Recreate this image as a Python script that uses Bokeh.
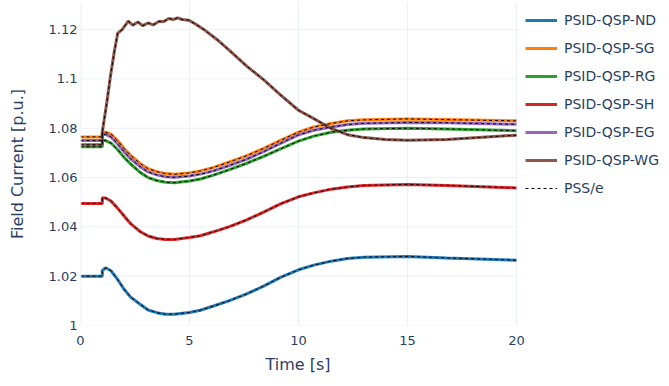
from bokeh.plotting import figure
from bokeh.models import (Legend, LegendItem, Range1d, FixedTicker,
                          CustomJSTickFormatter, Span, Title)
from bokeh.embed import file_html
from bokeh.resources import INLINE

# ---------------- data ----------------
time = [0, 1.0, 1.0, 1.15, 1.4, 1.7, 2.0, 2.3, 2.75, 3.1, 3.5, 3.9, 4.3, 5.0,
        5.5, 6.1, 6.8, 7.6, 8.4, 9.2, 10.0, 10.7, 11.5, 12.25, 13.0, 15.0,
        16.8, 20.0]

nd = [1.0200, 1.0200, 1.0223, 1.0234, 1.0222, 1.0187, 1.0147, 1.0115, 1.0085,
      1.0063, 1.0052, 1.0046, 1.0046, 1.0053, 1.0062, 1.0079, 1.0100, 1.0127,
      1.0160, 1.0196, 1.0226, 1.0245, 1.0261, 1.0272, 1.0277, 1.0280, 1.0274,
      1.0265]

sg = [1.0765, 1.0765, 1.0786, 1.0784, 1.0776, 1.0750, 1.0718, 1.0690, 1.0656,
      1.0636, 1.0624, 1.0616, 1.0613, 1.0619, 1.0627, 1.0641, 1.0662, 1.0688,
      1.0718, 1.0752, 1.0784, 1.0805, 1.0819, 1.0830, 1.0834, 1.0838, 1.0835,
      1.0830]

rg = [1.0725, 1.0725, 1.0752, 1.0750, 1.0740, 1.0714, 1.0682, 1.0655, 1.0620,
      1.0600, 1.0588, 1.0581, 1.0579, 1.0586, 1.0594, 1.0610, 1.0631, 1.0657,
      1.0686, 1.0717, 1.0748, 1.0768, 1.0784, 1.0792, 1.0797, 1.0800, 1.0797,
      1.0790]

sh = [1.0495, 1.0495, 1.0518, 1.0517, 1.0505, 1.0476, 1.0444, 1.0413, 1.0380,
      1.0363, 1.0353, 1.0349, 1.0349, 1.0357, 1.0364, 1.0380, 1.0400, 1.0427,
      1.0460, 1.0494, 1.0522, 1.0538, 1.0553, 1.0562, 1.0568, 1.0572, 1.0568,
      1.0558]

eg = [1.0750, 1.0750, 1.0777, 1.0775, 1.0765, 1.0737, 1.0705, 1.0676, 1.0643,
      1.0623, 1.0611, 1.0603, 1.0601, 1.0606, 1.0614, 1.0627, 1.0648, 1.0674,
      1.0705, 1.0740, 1.0773, 1.0792, 1.0805, 1.0815, 1.0820, 1.0823, 1.0822,
      1.0816]

time_wg = [0, 1.0, 1.0, 1.2, 1.38, 1.55, 1.71, 1.91, 2.19, 2.4, 2.63, 2.86,
           3.1, 3.33, 3.59, 3.82, 4.05, 4.25, 4.46, 4.66, 4.97, 5.27, 5.73,
           6.27, 6.88, 7.65, 8.41, 9.17, 10.0, 10.7, 11.5, 12.25, 13.0, 14.0,
           15.0, 16.8, 20.0]

wg = [1.0733, 1.0733, 1.0785, 1.0900, 1.1015, 1.1110, 1.1186, 1.1200, 1.1234,
      1.1218, 1.1231, 1.1216, 1.1227, 1.1219, 1.1233, 1.1233, 1.1245, 1.1241,
      1.1248, 1.1241, 1.1238, 1.1223, 1.1196, 1.1159, 1.1112, 1.1050, 1.0996,
      1.0935, 1.0873, 1.0839, 1.0799, 1.0774, 1.0762, 1.0754, 1.0751, 1.0754,
      1.0772]

names = ["PSID-QSP-ND", "PSID-QSP-SG", "PSID-QSP-RG", "PSID-QSP-SH",
         "PSID-QSP-EG", "PSID-QSP-WG"]
colors = ["#1f77b4", "#ff7f0e", "#2ca02c", "#d62728", "#9467bd", "#8c564b"]
x_ticks = [0, 5, 10, 15, 20]
y_ticks = [1.0, 1.02, 1.04, 1.06, 1.08, 1.1, 1.12]

series = [(time, nd), (time, sg), (time, rg), (time, sh), (time, eg),
          (time_wg, wg)]

# ---------------- layout constants ----------------
TXT = "#2a3f5f"
GRID = "#EBF0F8"
FONT = "DejaVu Sans"
W, H = 661, 378
LEFT, TOP, BOTTOM = 80, 2, 53
PLOT_W = 436                      # width of the data area (0..20 s)
FRAME_W = W - LEFT
x_end = x_ticks[-1] * FRAME_W / PLOT_W   # frame extends right to host legend

p = figure(width=W, height=H, output_backend="svg", toolbar_location=None,
           x_range=Range1d(0, x_end), y_range=Range1d(1.0, 1.131),
           min_border_left=LEFT, min_border_right=0, min_border_top=TOP,
           min_border_bottom=BOTTOM)
p.background_fill_color = "white"
p.border_fill_color = "white"
p.outline_line_color = None

p.xaxis.ticker = FixedTicker(ticks=x_ticks)
p.yaxis.ticker = FixedTicker(ticks=y_ticks)
p.yaxis.formatter = CustomJSTickFormatter(
    code="return tick.toFixed(2).replace(/0+$/, '').replace(/\\.$/, '');")

for ax in (p.xaxis[0], p.yaxis[0]):
    ax.axis_line_color = None
    ax.major_tick_line_color = None
    ax.minor_tick_line_color = None
    ax.major_tick_in = 0
    ax.major_tick_out = 0
    ax.minor_tick_in = 0
    ax.minor_tick_out = 0
    ax.major_label_text_color = TXT
    ax.major_label_text_font = FONT
    ax.major_label_text_font_size = "13px"
    ax.axis_label_text_color = TXT
    ax.axis_label_text_font = FONT
    ax.axis_label_text_font_size = "16px"
    ax.axis_label_text_font_style = "normal"

p.yaxis.axis_label = "Field Current [p.u.]"
p.xaxis.major_label_standoff = 10
p.yaxis.major_label_standoff = 3
p.yaxis.axis_label_standoff = 19

# x-axis title, centred under the data area (0..20 s)
xtitle = Title(text="Time [s]", align="left", offset=PLOT_W / 2 - 33,
               standoff=10, text_font=FONT, text_font_size="16px",
               text_font_style="normal", text_color=TXT)
p.add_layout(xtitle, "below")

# grid: vertical lines from the ticker, horizontal ones only over 0..20 s
p.xgrid.grid_line_color = GRID
p.xgrid.grid_line_width = 1
p.ygrid.grid_line_color = None
p.segment(x0=x_ticks[0], x1=x_ticks[-1], y0=y_ticks, y1=y_ticks,
          line_color=GRID, line_width=1)
p.add_layout(Span(location=0, dimension="height", line_color=GRID,
                  line_width=2))

solid = []
for (tx, ys), c in zip(series, colors):
    solid.append(p.line(tx, ys, line_color=c, line_width=3))

dashed = []
for tx, ys in series:
    dashed.append(p.line(tx, ys, line_color="black", line_width=1,
                         line_dash="3 3"))

items = [LegendItem(label=n, renderers=[r]) for n, r in zip(names, solid)]
items.append(LegendItem(label="PSS/e", renderers=[dashed[0]]))

legend = Legend(items=items, location=(445, 127), margin=0, padding=0,
                glyph_width=32, glyph_height=20, label_height=20,
                label_standoff=7, spacing=8,
                label_text_font=FONT, label_text_font_size="14px",
                label_text_color=TXT, border_line_color=None,
                background_fill_alpha=0)
p.add_layout(legend, "center")

open("out.html", "w").write(file_html(p, INLINE))
